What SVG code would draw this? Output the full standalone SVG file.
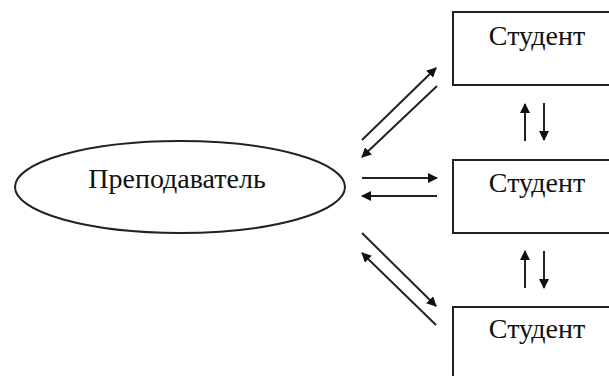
<svg xmlns="http://www.w3.org/2000/svg" width="609" height="376" viewBox="0 0 609 376">
<style>
.node{fill:#fff;stroke:#222;stroke-width:2}
.lbl{font-family:'Liberation Serif','Times New Roman','DejaVu Serif',serif;font-size:28px;fill:#111;text-anchor:middle}
.cn{stroke:#222;stroke-width:2;fill:none;marker-end:url(#ah)}
</style>
<defs>
<marker id="ah" viewBox="0 0 10 10" refX="9" refY="5" markerWidth="5" markerHeight="5" orient="auto" markerUnits="strokeWidth">
<path d="M0,0 L10,5 L0,10 z" fill="#111"/>
</marker>
</defs>
<rect width="609" height="376" fill="#fff"/>
<g id="teacher">
<ellipse class="node" cx="180" cy="187" rx="165" ry="46"/>
<text class="lbl" x="177" y="188">Преподаватель</text>
</g>
<g id="student1">
<rect class="node" x="453" y="12" width="160" height="73"/>
<text class="lbl" x="537" y="45">Студент</text>
</g>
<g id="student2">
<rect class="node" x="453" y="160" width="160" height="73"/>
<text class="lbl" x="537" y="192">Студент</text>
</g>
<g id="student3">
<rect class="node" x="453" y="307" width="160" height="80"/>
<text class="lbl" x="537" y="338">Студент</text>
</g>
<g id="connectors">
<line class="cn" x1="362" y1="140" x2="436" y2="68"/>
<line class="cn" x1="437" y1="86" x2="362" y2="157"/>
<line class="cn" x1="362" y1="178" x2="437" y2="178"/>
<line class="cn" x1="437" y1="196" x2="362" y2="196"/>
<line class="cn" x1="362" y1="233" x2="436" y2="306"/>
<line class="cn" x1="436" y1="325" x2="362" y2="253"/>
<line class="cn" x1="525" y1="141" x2="525" y2="104"/>
<line class="cn" x1="544" y1="103" x2="544" y2="140"/>
<line class="cn" x1="525" y1="288" x2="525" y2="251"/>
<line class="cn" x1="544" y1="251" x2="544" y2="288"/>
</g>
</svg>
